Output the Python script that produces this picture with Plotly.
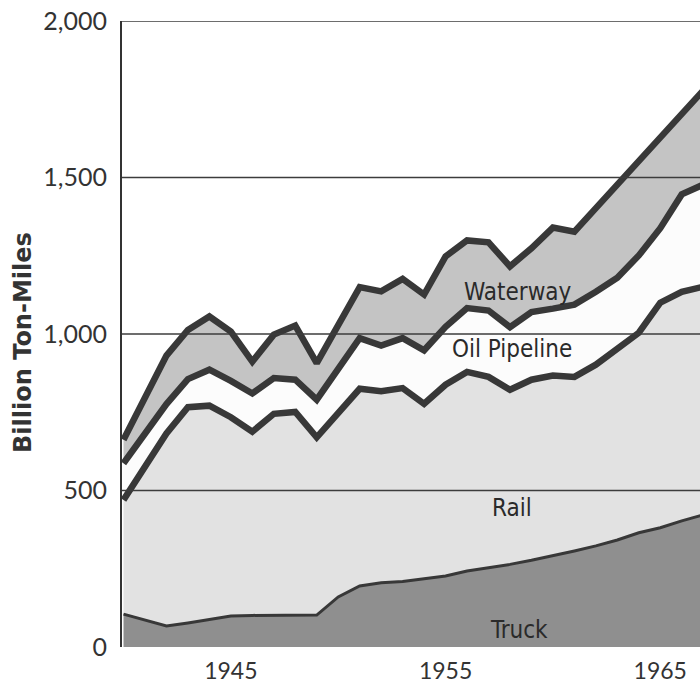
import plotly.graph_objects as go

years = list(range(1940, 1968))
truck = [105, 86, 67, 77, 88, 99, 101, 102, 102, 102, 160, 195, 205, 209, 218, 227, 243, 253, 264, 277, 291, 307, 323, 342, 365, 381, 403, 422]
rail = [365, 493, 615, 689, 683, 635, 587, 643, 649, 568, 587, 630, 612, 618, 559, 611, 636, 610, 558, 577, 576, 556, 579, 608, 639, 719, 732, 729]
pipeline = [117, 104, 94, 90, 115, 116, 122, 114, 103, 120, 139, 162, 146, 160, 171, 185, 204, 212, 200, 216, 214, 231, 233, 230, 247, 238, 311, 326]
waterway = [75, 116, 155, 157, 170, 158, 102, 139, 173, 117, 141, 163, 173, 189, 178, 225, 216, 218, 194, 204, 259, 233, 267, 297, 301, 290, 257, 301]

y_ticks = [0, 500, 1000, 1500, 2000]
y_labels = ["0", "500", "1,000", "1,500", "2,000"]
x_ticks = [1945, 1955, 1965]
x_labels = ["1945", "1955", "1965"]

LINE = "#383838"
series = [
    ("Truck", truck, "#8f8f8f", 3),
    ("Rail", rail, "#e2e2e2", 6.5),
    ("Oil Pipeline", pipeline, "#fcfcfc", 6.5),
    ("Waterway", waterway, "#c4c4c4", 6.5),
]

fig = go.Figure()
for name, vals, fc, lw in series:
    fig.add_trace(go.Scatter(
        x=years, y=vals, name=name, stackgroup="one", mode="lines",
        line=dict(color=LINE, width=lw), fillcolor=fc,
    ))

for v in y_ticks[1:]:
    fig.add_shape(type="line", xref="paper", x0=0, x1=1, yref="y", y0=v, y1=v,
                  line=dict(color="#3c3c3c", width=1.5), layer="above")

label_font = dict(family="Liberation Sans Narrow, DejaVu Sans Condensed, sans-serif", size=24, color="#2a2a2a")
labels = [("Waterway", 1958.35, 1135), ("Oil Pipeline", 1958.1, 953), ("Rail", 1958.1, 445), ("Truck", 1958.4, 54)]
for txt, xx, yy in labels:
    fig.add_annotation(x=xx, y=yy, xref="x", yref="y", text=txt, showarrow=False, font=label_font)

fig.add_annotation(x=-0.171, y=0.486, xref="paper", yref="paper", text="<b>Billion Ton-Miles</b>",
                   textangle=-90, showarrow=False, xanchor="center", yanchor="middle",
                   font=dict(family="DejaVu Sans", size=24, color="#333333"))

fig.update_layout(
    width=700, height=683,
    margin=dict(l=122, r=0, t=21, b=36),
    paper_bgcolor="white", plot_bgcolor="white",
    showlegend=False,
    xaxis=dict(range=[1939.93, 1966.85], tickvals=x_ticks, ticktext=x_labels, showgrid=False,
               zeroline=False, showline=False, ticks="", ticklabelstandoff=8,
               tickfont=dict(family="Lato", size=23, color="#333333")),
    yaxis=dict(range=[0, 2000], tickvals=y_ticks, ticktext=y_labels, showgrid=False, zeroline=False,
               showline=True, linecolor="#333333", linewidth=2, ticks="", ticklabelstandoff=8,
               tickfont=dict(family="Lato", size=25, color="#333333")),
)

fig.write_html("out.html", config={"displayModeBar": False},
               post_script="document.body.style.margin='0';document.body.style.overflow='hidden';")
